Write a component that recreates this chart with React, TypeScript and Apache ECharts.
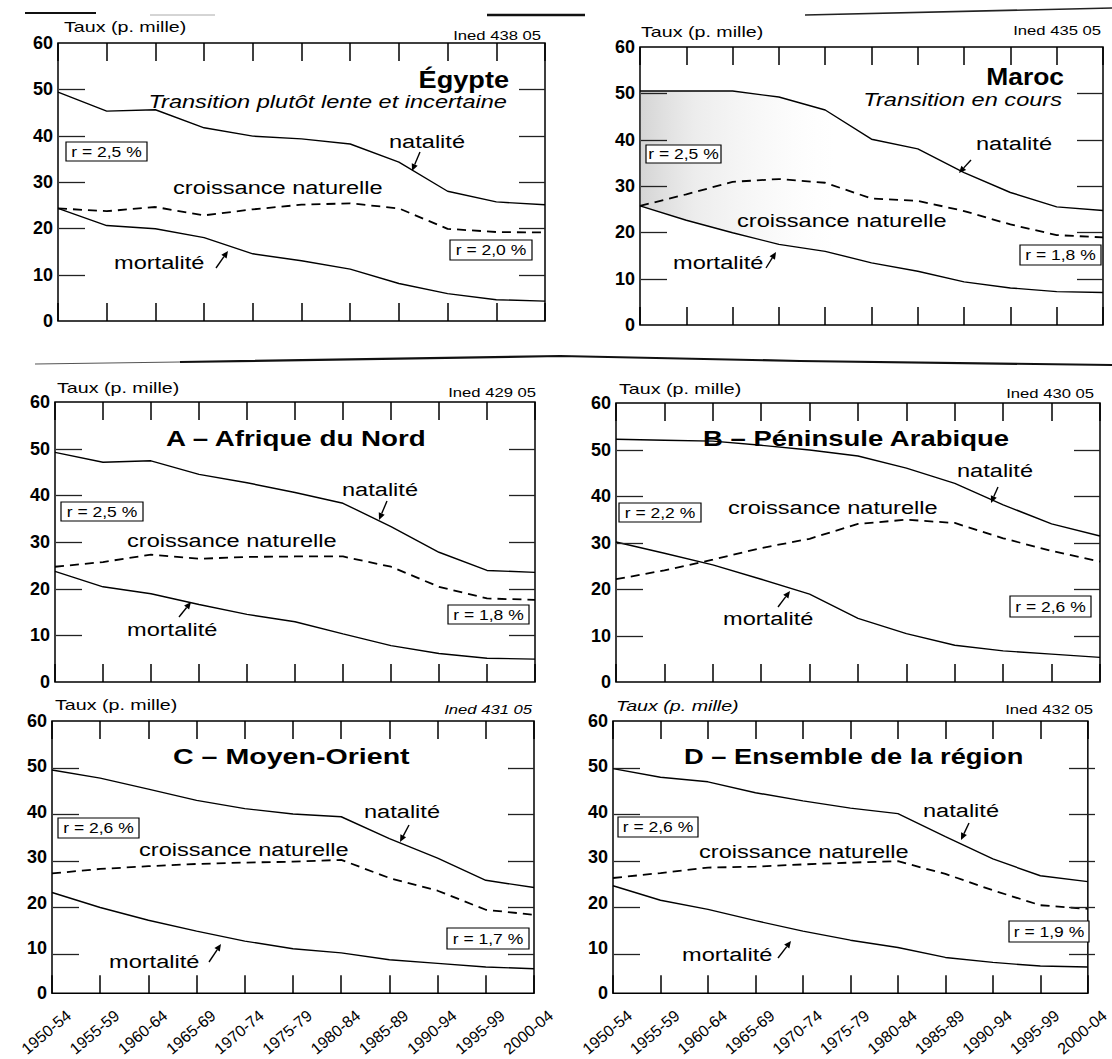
import React, { useEffect, useRef } from 'react';
import * as echarts from 'echarts';

// ---------- data ----------
const periods = ['1950-54', '1955-59', '1960-64', '1965-69', '1970-74', '1975-79', '1980-84', '1985-89', '1990-94', '1995-99', '2000-04'];
const yMin = 0;
const yMax = 60;
const yStep = 10;
const yStubValues = [10, 20, 30, 40, 50];

const egypteNatalite = [49.4, 45.3, 45.6, 41.7, 39.9, 39.3, 38.2, 34.3, 28.0, 25.7, 25.1];
const egypteCroissance = [24.3, 23.7, 24.6, 22.8, 24.1, 25.1, 25.4, 24.3, 19.9, 19.2, 19.1];
const egypteMortalite = [24.3, 20.6, 19.9, 18.0, 14.5, 13.0, 11.2, 8.1, 5.9, 4.6, 4.3];

const marocNatalite = [50.5, 50.5, 50.5, 49.2, 46.4, 40.1, 38.0, 32.9, 28.6, 25.5, 24.7];
const marocCroissance = [25.7, 28.2, 30.9, 31.5, 30.7, 27.3, 26.8, 24.6, 21.7, 19.4, 18.9];
const marocMortalite = [25.7, 22.6, 19.9, 17.4, 15.9, 13.4, 11.6, 9.3, 8.0, 7.2, 7.0];

const nordNatalite = [49.2, 47.1, 47.4, 44.5, 42.7, 40.6, 38.3, 33.3, 27.8, 23.9, 23.5];
const nordCroissance = [24.7, 25.7, 27.3, 26.4, 26.8, 26.9, 26.9, 24.7, 20.4, 17.9, 17.6];
const nordMortalite = [23.7, 20.4, 18.9, 16.6, 14.5, 12.9, 10.3, 7.8, 6.1, 5.1, 4.9];

const arabieNatalite = [52.2, 52.0, 51.8, 50.9, 49.9, 48.6, 46.0, 42.7, 38.1, 34.0, 31.4];
const arabieCroissance = [22.1, 24.0, 26.3, 28.8, 30.8, 34.0, 34.9, 34.2, 30.9, 28.2, 25.9];
const arabieMortalite = [30.1, 27.7, 25.2, 22.1, 18.9, 13.7, 10.4, 7.9, 6.7, 6.0, 5.3];

const orientNatalite = [49.2, 47.4, 45.0, 42.5, 40.7, 39.5, 38.9, 34.1, 29.8, 24.9, 23.3];
const orientCroissance = [26.4, 27.4, 28.0, 28.5, 28.8, 29.0, 29.4, 25.4, 22.6, 18.4, 17.3];
const orientMortalite = [22.2, 18.9, 16.1, 13.7, 11.5, 9.8, 8.9, 7.4, 6.6, 5.8, 5.4];

const regionNatalite = [49.5, 47.6, 46.6, 44.2, 42.4, 40.8, 39.6, 34.5, 29.6, 25.9, 24.6];
const regionCroissance = [25.4, 26.5, 27.7, 27.9, 28.4, 28.8, 29.1, 26.3, 22.7, 19.4, 18.6];
const regionMortalite = [23.7, 20.5, 18.5, 16.0, 13.7, 11.7, 10.1, 7.9, 6.8, 6.0, 5.8];

const panelData = [
  [egypteNatalite, egypteCroissance, egypteMortalite],
  [marocNatalite, marocCroissance, marocMortalite],
  [nordNatalite, nordCroissance, nordMortalite],
  [arabieNatalite, arabieCroissance, arabieMortalite],
  [orientNatalite, orientCroissance, orientMortalite],
  [regionNatalite, regionCroissance, regionMortalite],
];

// ---------- layout ----------
const grids = [
  { left: 58, top: 43, width: 487, height: 278 },
  { left: 640, top: 47, width: 463, height: 278 },
  { left: 55, top: 402, width: 480, height: 280 },
  { left: 616, top: 403, width: 484, height: 279 },
  { left: 52, top: 721, width: 482, height: 279 },
  { left: 613, top: 721, width: 482, height: 279 },
];
const showXLabels = [false, false, false, false, true, true];
const STUB = 26;

const FONT = '"Liberation Sans", Arial, Helvetica, sans-serif';
const SX = 1.31; // horizontal stretch of the scanned lettering

function txt(x: number, y: number, text: string, size: number, opts: any = {}) {
  const font = `${opts.italic ? 'italic ' : ''}${opts.bold ? 'bold ' : ''}${size}px ${FONT}`;
  const align = opts.align || 'left';
  return {
    type: 'text',
    x,
    y,
    scaleX: opts.sx || SX,
    z: 60,
    style: {
      text,
      fill: '#000',
      font,
      align,
      textAlign: align,
      verticalAlign: 'middle',
      textVerticalAlign: 'middle',
    },
  };
}

function box(x: number, y: number, w: number, h: number, text: string) {
  return [
    {
      type: 'rect',
      z: 55,
      shape: { x, y, width: w, height: h },
      style: { fill: '#fff', stroke: '#000', lineWidth: 1.2 },
    },
    txt(x + w / 2, y + h / 2 + 0.5, text, 14, { align: 'center', sx: 1.25 }),
  ];
}

function arrow(x1: number, y1: number, x2: number, y2: number) {
  const dx = x2 - x1;
  const dy = y2 - y1;
  const len = Math.sqrt(dx * dx + dy * dy) || 1;
  const ux = dx / len;
  const uy = dy / len;
  const bx = x2 - ux * 7;
  const by = y2 - uy * 7;
  const nx = -uy;
  const ny = ux;
  return [
    {
      type: 'line',
      z: 60,
      shape: { x1, y1, x2: bx, y2: by },
      style: { stroke: '#000', lineWidth: 1.4 },
    },
    {
      type: 'polygon',
      z: 60,
      shape: { points: [[x2, y2], [bx + nx * 3.2, by + ny * 3.2], [bx - nx * 3.2, by - ny * 3.2]] },
      style: { fill: '#000' },
    },
  ];
}

// short inner tick marks on both vertical sides of every panel (axis decoration)
function stubs() {
  const els: any[] = [];
  grids.forEach((g) => {
    yStubValues.forEach((v) => {
      const y = Math.round(g.top + g.height * (1 - (v - yMin) / (yMax - yMin))) + 0.5;
      els.push({ type: 'line', z: 100, shape: { x1: g.left + 1, y1: y, x2: g.left + 1 + STUB, y2: y }, style: { stroke: '#222', lineWidth: 1.3 } });
      els.push({ type: 'line', z: 100, shape: { x1: g.left + g.width - STUB, y1: y, x2: g.left + g.width, y2: y }, style: { stroke: '#222', lineWidth: 1.3 } });
    });
  });
  return els;
}

const annotations: any[] = [
  // Égypte
  txt(64, 27, 'Taux (p. mille)', 15),
  txt(541, 35, 'Ined 438 05', 13, { align: 'right', sx: 1.28 }),
  txt(509, 80, 'Égypte', 24, { bold: true, align: 'right', sx: 1.13 }),
  txt(507, 102, 'Transition plutôt lente et incertaine', 18, { italic: true, align: 'right' }),
  ...box(66, 142, 81, 19, 'r = 2,5 %'),
  txt(389, 142, 'natalité', 18),
  ...arrow(420, 152, 412, 171),
  txt(173, 188, 'croissance naturelle', 18),
  ...box(450, 240, 82, 20, 'r = 2,0 %'),
  txt(114, 263, 'mortalité', 18),
  ...arrow(216, 268, 228, 251),

  // Maroc
  txt(641, 32, 'Taux (p. mille)', 15),
  txt(1101, 30, 'Ined 435 05', 13, { align: 'right', sx: 1.28 }),
  txt(1064, 76, 'Maroc', 24, { bold: true, align: 'right', sx: 1.1 }),
  txt(1062, 100, 'Transition en cours', 18, { italic: true, align: 'right' }),
  ...box(646, 145, 75, 18, 'r = 2,5 %'),
  txt(976, 144, 'natalité', 18),
  ...arrow(971, 160, 959, 173),
  txt(737, 221, 'croissance naturelle', 18),
  ...box(1020, 245, 81, 20, 'r = 1,8 %'),
  txt(673, 263, 'mortalité', 18),
  ...arrow(766, 268, 776, 252),

  // A
  txt(57, 388, 'Taux (p. mille)', 15),
  txt(536, 392, 'Ined 429 05', 13, { align: 'right', sx: 1.28 }),
  txt(166, 438, 'A – Afrique du Nord', 22, { bold: true, sx: 1.26 }),
  ...box(61, 502, 82, 19, 'r = 2,5 %'),
  txt(342, 490, 'natalité', 18),
  ...arrow(387, 501, 379, 520),
  txt(127, 541, 'croissance naturelle', 18),
  ...box(448, 605, 81, 19, 'r = 1,8 %'),
  txt(127, 630, 'mortalité', 18),
  ...arrow(179, 617, 191, 602),

  // B
  txt(619, 389, 'Taux (p. mille)', 15),
  txt(1094, 393, 'Ined 430 05', 13, { align: 'right', sx: 1.28 }),
  txt(703, 438, 'B – Péninsule Arabique', 22, { bold: true, sx: 1.25 }),
  ...box(619, 503, 82, 19, 'r = 2,2 %'),
  txt(957, 471, 'natalité', 18),
  ...arrow(998, 487, 991, 503),
  txt(728, 508, 'croissance naturelle', 18),
  ...box(1010, 596, 81, 21, 'r = 2,6 %'),
  txt(723, 619, 'mortalité', 18),
  ...arrow(778, 607, 790, 591),

  // C
  txt(55, 705, 'Taux (p. mille)', 15),
  txt(532, 709, 'Ined 431 05', 13, { italic: true, align: 'right', sx: 1.28 }),
  txt(173, 756, 'C – Moyen-Orient', 22, { bold: true, sx: 1.3 }),
  ...box(58, 818, 81, 20, 'r = 2,6 %'),
  txt(364, 812, 'natalité', 18),
  ...arrow(409, 825, 400, 842),
  txt(139, 850, 'croissance naturelle', 18),
  ...box(447, 928, 82, 21, 'r = 1,7 %'),
  txt(109, 962, 'mortalité', 18),
  ...arrow(209, 962, 221, 944),

  // D
  txt(616, 706, 'Taux (p. mille)', 15, { italic: true }),
  txt(1093, 709, 'Ined 432 05', 13, { align: 'right', sx: 1.28 }),
  txt(684, 756, 'D – Ensemble de la région', 22, { bold: true, sx: 1.24 }),
  ...box(618, 817, 80, 20, 'r = 2,6 %'),
  txt(923, 811, 'natalité', 18),
  ...arrow(969, 823, 961, 840),
  txt(699, 852, 'croissance naturelle', 18),
  ...box(1009, 921, 80, 21, 'r = 1,9 %'),
  txt(682, 955, 'mortalité', 18),
  ...arrow(778, 958, 791, 941),

  // page separators
  { type: 'line', z: 40, shape: { x1: 25, y1: 13, x2: 96, y2: 13 }, style: { stroke: '#111', lineWidth: 2.2 } },
  { type: 'line', z: 40, shape: { x1: 150, y1: 15, x2: 215, y2: 15 }, style: { stroke: '#aaa', lineWidth: 1 } },
  { type: 'line', z: 40, shape: { x1: 487, y1: 15, x2: 585, y2: 15 }, style: { stroke: '#111', lineWidth: 2.5 } },
  { type: 'line', z: 40, shape: { x1: 805, y1: 15, x2: 1112, y2: 8 }, style: { stroke: '#222', lineWidth: 1.6 } },
  { type: 'line', z: 40, shape: { x1: 35, y1: 364, x2: 180, y2: 362 }, style: { stroke: '#555', lineWidth: 1.2 } },
  { type: 'polyline', z: 40, shape: { points: [[180, 362], [560, 356], [800, 361], [1112, 365]] }, style: { stroke: '#111', lineWidth: 2.2, fill: 'none' } },

  ...stubs(),
];

function buildOption() {
  const gridOpts: any[] = [];
  const xAxes: any[] = [];
  const yAxes: any[] = [];
  const series: any[] = [];

  const xTick = { show: true, inside: true, length: 18, interval: 0, lineStyle: { color: '#000', width: 1.5 } };

  grids.forEach((g, i) => {
    gridOpts.push({
      ...g,
      show: true,
      borderColor: '#000',
      borderWidth: 1.5,
      backgroundColor: 'transparent',
      containLabel: false,
    });
    xAxes.push({
      gridIndex: i,
      type: 'category',
      data: periods,
      boundaryGap: false,
      position: 'bottom',
      axisLine: { show: false, onZero: false },
      axisTick: xTick,
      axisLabel: {
        show: showXLabels[i],
        interval: 0,
        rotate: 40,
        margin: 0,
        align: 'right',
        verticalAlign: 'top',
        padding: [18, 0, 0, 0],
        fontSize: 16,
        color: '#000',
        fontFamily: FONT,
      },
      splitLine: { show: false },
    });
    xAxes.push({
      gridIndex: i,
      type: 'category',
      data: periods,
      boundaryGap: false,
      position: 'top',
      axisLine: { show: false, onZero: false },
      axisTick: xTick,
      axisLabel: { show: false },
      splitLine: { show: false },
    });
    yAxes.push({
      gridIndex: i,
      type: 'value',
      min: yMin,
      max: yMax,
      interval: yStep,
      position: 'left',
      axisLine: { show: false, onZero: false },
      axisTick: { show: false },
      axisLabel: { show: true, margin: 5, fontSize: 18, fontWeight: 'bold', color: '#000', fontFamily: FONT },
      splitLine: { show: false },
    });

    const [nat, cro, mor] = panelData[i];
    const base = { type: 'line', xAxisIndex: 2 * i, yAxisIndex: i, symbol: 'none', silent: true };

    if (i === 1) {
      series.push({
        ...base,
        name: 'maroc-base',
        stack: 'marocBand',
        data: mor,
        lineStyle: { opacity: 0 },
        z: 1,
      });
      series.push({
        ...base,
        name: 'maroc-band',
        stack: 'marocBand',
        data: nat.map((v, k) => +(v - mor[k]).toFixed(2)),
        lineStyle: { opacity: 0 },
        areaStyle: {
          color: new echarts.graphic.LinearGradient(0, 0, 1, 0, [
            { offset: 0, color: 'rgba(110,110,110,0.42)' },
            { offset: 0.12, color: 'rgba(150,150,150,0.25)' },
            { offset: 0.3, color: 'rgba(190,190,190,0.1)' },
            { offset: 0.42, color: 'rgba(220,220,220,0)' },
            { offset: 1, color: 'rgba(255,255,255,0)' },
          ]),
        },
        z: 1,
      });
    }

    series.push({ ...base, name: 'natalité', data: nat, lineStyle: { color: '#000', width: 1.4 }, z: 3 });
    series.push({ ...base, name: 'croissance naturelle', data: cro, lineStyle: { color: '#000', width: 1.8, type: [9, 6] }, z: 3 });
    series.push({ ...base, name: 'mortalité', data: mor, lineStyle: { color: '#000', width: 1.4 }, z: 3 });
  });

  return {
    animation: false,
    backgroundColor: '#fff',
    textStyle: { fontFamily: FONT },
    grid: gridOpts,
    xAxis: xAxes,
    yAxis: yAxes,
    series,
    graphic: { elements: annotations },
  };
}

export default function App() {
  const ref = useRef<HTMLDivElement>(null);
  useEffect(() => {
    if (!ref.current) return;
    const chart = echarts.init(ref.current, undefined, { renderer: 'svg' });
    chart.setOption(buildOption() as any);
    return () => chart.dispose();
  }, []);
  return (
    <div
      ref={ref}
      style={{ position: 'absolute', left: 0, top: 0, width: 1112, height: 1059, background: '#fff' }}
    />
  );
}
